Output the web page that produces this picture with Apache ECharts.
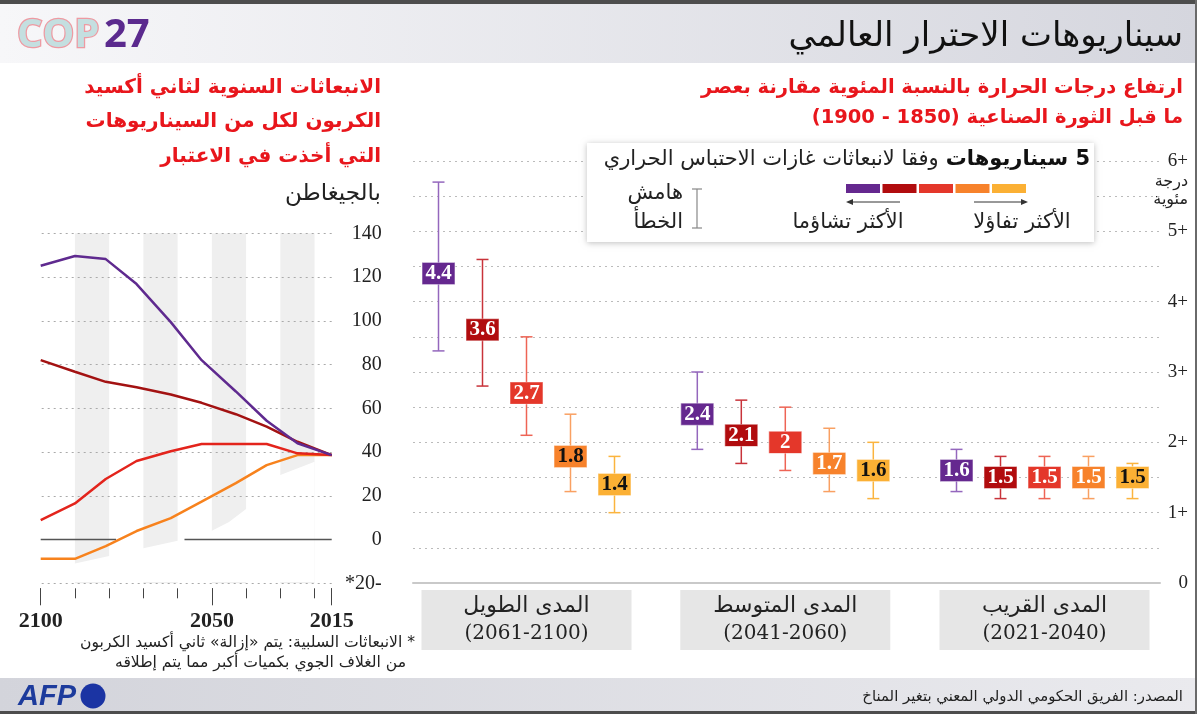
<!DOCTYPE html>
<html><head><meta charset="utf-8">
<script src="https://cdn.jsdelivr.net/npm/echarts@6/dist/echarts.min.js"></script>
<style>html,body{margin:0;padding:0;background:#fff;overflow:hidden}#c{width:1197px;height:714px;direction:rtl}</style>
</head><body><div id="c"></div><script>
// ---------- Data: left chart (annual CO2 emissions, GtCO2) ----------
const emissionYears = [2100, 2090, 2081, 2072, 2062, 2053, 2043, 2034, 2025, 2015];
const ssp585 = [125.2, 129.6, 128.2, 116.8, 99.4, 82.0, 67.7, 54.3, 44.0, 38.6];
const ssp370 = [82.0, 76.7, 72.1, 69.6, 66.3, 62.5, 57.3, 51.6, 44.7, 38.6];
const ssp245 = [8.9, 16.5, 27.7, 35.9, 40.4, 43.7, 43.7, 43.7, 39.4, 38.6];
const ssp126 = [-8.8, -8.8, -3.0, 3.9, 9.8, 17.3, 25.8, 34.0, 38.6, 38.6];
const maskYears = [2100, 2090, 2080, 2070, 2060, 2050, 2045, 2040, 2030, 2020];
const maskTop = [-12, -11, -7.5, -4, -0.5, 4, 8, 14, 29.5, 35.6];
const zeroSegA = [2100, 2078];
const zeroSegB = [2058, 2015];
const bandYears = [[2090, 2080], [2070, 2060], [2050, 2040], [2030, 2020]];
const emissionTicks = [140, 120, 100, 80, 60, 40, 20, -20];
const yearTicks = [2100, 2090, 2080, 2070, 2060, 2050, 2040, 2030, 2020, 2015];
const yearLabels = [2100, 2050, 2015];

// ---------- Data: right chart (warming, °C) ----------
const scenarios = ['SSP5-8.5', 'SSP3-7.0', 'SSP2-4.5', 'SSP1-2.6', 'SSP1-1.9'];
const periods = ['المدى الطويل', 'المدى المتوسط', 'المدى القريب'];
const periodYears = ['(2061-2100)', '(2041-2060)', '(2021-2040)'];
const warmLong = [4.4, 3.6, 2.7, 1.8, 1.4];
const lowLong = [3.3, 2.8, 2.1, 1.3, 1.0];
const highLong = [5.7, 4.6, 3.5, 2.4, 1.8];
const warmMid = [2.4, 2.1, 2.0, 1.7, 1.6];
const lowMid = [1.9, 1.7, 1.6, 1.3, 1.2];
const highMid = [3.0, 2.6, 2.5, 2.2, 2.0];
const warmNear = [1.6, 1.5, 1.5, 1.5, 1.5];
const lowNear = [1.3, 1.2, 1.2, 1.2, 1.2];
const highNear = [1.9, 1.8, 1.8, 1.8, 1.7];
const warmTicks = [0, 1, 2, 3, 4, 5, 6];

// ---------- Styles ----------
const boxColors = ['#65288f', '#b10c0e', '#e4372a', '#f7822b', '#fbb034'];
const barColors = ['#9467bd', '#c8333a', '#ee6455', '#f9a062', '#fbb43e'];
const lineColors = ['#5f2a8f', '#a31212', '#e3241c', '#f7821d'];
const darkText = [[3, 4], [4], [4]];
const AR = "'DejaVu Sans', sans-serif";
const SERIF = "'Liberation Serif', 'DejaVu Serif', serif";
const DSERIF = "'DejaVu Serif', serif";
const RED = '#e8161c';

const groups = [
  {mid: warmLong, low: lowLong, high: highLong},
  {mid: warmMid, low: lowMid, high: highMid},
  {mid: warmNear, low: lowNear, high: highNear}
];
const groupLeft = [416.5, 675.3, 934.5];

const chart = echarts.init(document.getElementById('c'), null, {renderer: 'canvas'});

const grids = [
  {left: 40.7, top: 233.3, width: 291, height: 350},
  {left: 413, top: 161, width: 747, height: 422}
];
groupLeft.forEach(l => grids.push({left: l, top: 161, width: 220, height: 422}));

const xAxes = [
  {gridIndex: 0, type: 'value', position: 'bottom', inverse: true, min: 2015, max: 2100, offset: 5,
    axisLine: {show: false, onZero: false}, splitLine: {show: false},
    axisTick: {show: true, customValues: yearTicks, length: 10, lineStyle: {color: '#444', width: 1}},
    axisLabel: {show: false}},
  {gridIndex: 0, type: 'value', position: 'bottom', inverse: true, min: 2015, max: 2100, offset: 5,
    axisLine: {show: false, onZero: false}, splitLine: {show: false},
    axisTick: {show: true, customValues: yearLabels, length: 17, lineStyle: {color: '#444', width: 1}},
    axisLabel: {show: true, customValues: yearLabels, margin: 22, fontFamily: SERIF, fontSize: 22, fontWeight: 'bold', color: '#222',
      formatter: v => String(v)}},
  {gridIndex: 1, type: 'category', position: 'bottom', data: [''], axisTick: {show: false}, axisLabel: {show: false},
    axisLine: {show: true, onZero: false, lineStyle: {color: '#c9c9c9', width: 2}}}
];
groupLeft.forEach((l, g) => xAxes.push({gridIndex: 2 + g, type: 'category', position: 'bottom', data: scenarios, show: false,
  axisLine: {onZero: false}}));
groupLeft.forEach((l, g) => xAxes.push({gridIndex: 2 + g, type: 'category', position: 'bottom', data: [periods[g]],
  axisLine: {show: false, onZero: false}, axisTick: {show: false},
  axisLabel: {interval: 0, margin: 7, backgroundColor: '#e6e6e6', width: 210, padding: [2, 0, 2, 0], align: 'center',
    formatter: () => '{a|' + periods[g] + '}\n{b|' + periodYears[g] + '}',
    rich: {a: {fontFamily: AR, fontSize: 22, lineHeight: 28, color: '#222', align: 'center'},
           b: {fontFamily: DSERIF, fontSize: 20, lineHeight: 28, color: '#222', align: 'center'}}}}));

const yAxes = [
  {gridIndex: 0, type: 'value', min: -20, max: 140, interval: 20, position: 'right',
    axisLine: {show: false}, axisTick: {show: false}, splitLine: {show: false},
    axisLabel: {margin: 50, align: 'right', fontFamily: SERIF, fontSize: 20, color: '#222',
      formatter: v => v < 0 ? String(v) + '*' : String(v)}},
  {gridIndex: 1, type: 'value', min: 0, max: 6, interval: 0.5, position: 'right',
    axisLine: {show: false}, axisTick: {show: false},
    splitLine: {show: true, lineStyle: {color: '#bbbbbb', width: 1, type: [2, 4]}},
    axisLabel: {margin: 28, align: 'right', fontFamily: SERIF, fontSize: 19, color: '#222',
      formatter: v => warmTicks.indexOf(v) < 0 ? '' : (v === 0 ? '0' : '+' + v)}}
];
groupLeft.forEach((l, g) => yAxes.push({gridIndex: 2 + g, type: 'value', min: 0, max: 6, show: false}));

const series = [
  {type: 'line', xAxisIndex: 0, yAxisIndex: 0, data: [], z: 1, silent: true,
    markArea: {silent: true, itemStyle: {color: '#efefef'}, label: {show: false},
      data: bandYears.map(b => [{xAxis: b[0]}, {xAxis: b[1]}])}},
  {type: 'line', xAxisIndex: 0, yAxisIndex: 0, z: 2, silent: true, symbol: 'none',
    data: maskYears.map((y, i) => [y, maskTop[i]]),
    lineStyle: {width: 0, color: '#fff'}, areaStyle: {color: '#fff', opacity: 1, origin: -19.4}},
  {type: 'line', xAxisIndex: 0, yAxisIndex: 0, data: [], z: 3, silent: true,
    markLine: {silent: true, symbol: ['none', 'none'], label: {show: false},
      lineStyle: {color: '#aaa', width: 1, type: [2, 4]},
      data: emissionTicks.map(v => ({yAxis: v}))}},
  {type: 'line', xAxisIndex: 0, yAxisIndex: 0, z: 4, silent: true, symbol: 'none',
    data: zeroSegA.map(y => [y, 0]), lineStyle: {color: '#555', width: 1.5}},
  {type: 'line', xAxisIndex: 0, yAxisIndex: 0, z: 4, silent: true, symbol: 'none',
    data: zeroSegB.map(y => [y, 0]), lineStyle: {color: '#555', width: 1.5}}
];
[ssp585, ssp370, ssp245, ssp126].forEach((arr, k) => series.push({
  type: 'line', name: scenarios[k], xAxisIndex: 0, yAxisIndex: 0, z: 5 + (3 - k), symbol: 'none',
  data: emissionYears.map((y, i) => [y, arr[i]]),
  lineStyle: {color: lineColors[k], width: 2.5}
}));

groups.forEach((gr, g) => {
  series.push({
    type: 'custom', xAxisIndex: 3 + g, yAxisIndex: 2 + g, z: 5, silent: true,
    data: scenarios.map((s, i) => [i, gr.low[i], gr.high[i]]),
    encode: {x: 0, y: [1, 2]},
    renderItem: (params, api) => {
      const x = api.value(0);
      const p1 = api.coord([x, api.value(1)]);
      const p2 = api.coord([x, api.value(2)]);
      const st = {stroke: barColors[params.dataIndex], lineWidth: 1.5};
      const hw = 6;
      return {type: 'group', children: [
        {type: 'line', shape: {x1: p1[0], y1: p1[1], x2: p2[0], y2: p2[1]}, style: st},
        {type: 'line', shape: {x1: p1[0] - hw, y1: p1[1], x2: p1[0] + hw, y2: p1[1]}, style: st},
        {type: 'line', shape: {x1: p2[0] - hw, y1: p2[1], x2: p2[0] + hw, y2: p2[1]}, style: st}
      ]};
    }
  });
  series.push({
    type: 'scatter', xAxisIndex: 3 + g, yAxisIndex: 2 + g, z: 6, silent: true,
    symbol: 'rect', symbolSize: [33, 22],
    data: gr.mid.map((v, i) => ({
      value: [i, v],
      itemStyle: {color: boxColors[i], opacity: 1, borderColor: 'rgba(255,255,255,0.45)', borderWidth: 1},
      label: {color: darkText[g].indexOf(i) >= 0 ? '#111' : '#fff'}
    })),
    itemStyle: {opacity: 1},
    label: {show: true, position: 'inside', fontFamily: SERIF, fontSize: 21, fontWeight: 'bold',
      formatter: p => String(p.value[1])}
  });
});

const T = (x, y, text, font, fill, align, extra) => Object.assign({type: 'text', x: x, y: y,
  style: {text: text, font: font, fill: fill, align: align || 'right', verticalAlign: 'middle'}}, extra || {});

const graphic = [
  {type: 'rect', shape: {x: 0, y: 0, width: 1197, height: 4}, style: {fill: '#4d4d4d'}},
  {type: 'rect', shape: {x: 0, y: 4, width: 1197, height: 59},
    style: {fill: {type: 'linear', x: 0, y: 0, x2: 1, y2: 0, colorStops: [{offset: 0, color: '#f7f7f9'}, {offset: 1, color: '#d5d6de'}]}}},
  {type: 'text', x: 17, y: 36, style: {text: 'COP', font: "bold 40px 'Open Sans', Inter, sans-serif", fill: '#c4dfe0', stroke: '#ee9aa2', lineWidth: 2.5, align: 'left', verticalAlign: 'middle'}},
  T(104, 36, '27', "bold 40px 'Open Sans', Inter, sans-serif", '#5b2a8e', 'left'),
  T(1183, 37, 'سيناريوهات الاحترار العالمي', '34px ' + AR, '#111'),
  // bottom band
  {type: 'rect', shape: {x: 0, y: 678, width: 1197, height: 33},
    style: {fill: {type: 'linear', x: 0, y: 0, x2: 1, y2: 0, colorStops: [{offset: 0, color: '#d3d4db'}, {offset: 1, color: '#eaeaee'}]}}},
  {type: 'rect', shape: {x: 0, y: 711, width: 1197, height: 3}, style: {fill: '#4d4d4d'}},
  {type: 'rect', shape: {x: 1195, y: 0, width: 2, height: 714}, style: {fill: '#6a6a6a'}},
  T(18, 697, 'AFP', "italic bold 29px 'Liberation Sans', Arial, sans-serif", '#1c3b9c', 'left'),
  {type: 'circle', shape: {cx: 93, cy: 696, r: 12.5}, style: {fill: '#1b34a3'}},
  T(1183, 697, 'المصدر: الفريق الحكومي الدولي المعني بتغير المناخ', '14.9px ' + AR, '#222'),
  // left titles
  T(381, 88, 'الانبعاثات السنوية لثاني أكسيد', 'bold 20px ' + AR, RED),
  T(381, 122, 'الكربون لكل من السيناريوهات', 'bold 20px ' + AR, RED),
  T(381, 157, 'التي أخذت في الاعتبار', 'bold 20px ' + AR, RED),
  T(381, 194, 'بالجيغاطن', '23px ' + AR, '#222'),
  // right titles
  T(1183, 88, 'ارتفاع درجات الحرارة بالنسبة المئوية مقارنة بعصر', 'bold 19.5px ' + AR, RED),
  T(1183, 118, 'ما قبل الثورة الصناعية (1850 - 1900)', 'bold 19.5px ' + AR, RED),
  T(1188, 182, 'درجة', '16px ' + AR, '#222'),
  T(1188, 200, 'مئوية', '16px ' + AR, '#222'),
  // footnote
  T(415, 643, '* الانبعاثات السلبية: يتم «إزالة» ثاني أكسيد الكربون', '15.6px ' + AR, '#222'),
  T(406, 663, 'من الغلاف الجوي بكميات أكبر مما يتم إطلاقه', '15.6px ' + AR, '#222')
];

// legend box
const legend = [
  {type: 'rect', shape: {x: 587, y: 143, width: 507, height: 99},
    style: {fill: '#fff', shadowBlur: 6, shadowColor: 'rgba(0,0,0,0.25)', shadowOffsetX: 0, shadowOffsetY: 1}},
  {type: 'text', x: 1090, y: 160, style: {
    text: '{r|وفقا لانبعاثات غازات الاحتباس الحراري}{b|5 سيناريوهات}', align: 'right', verticalAlign: 'middle',
    rich: {r: {font: '21px ' + AR, fill: '#222'}, b: {font: 'bold 21px ' + AR, fill: '#111', padding: [0, 0, 0, 7]}}}},
  {type: 'line', shape: {x1: 851, y1: 202, x2: 900, y2: 202}, style: {stroke: '#333', lineWidth: 1}},
  {type: 'polygon', shape: {points: [[846, 202], [853, 199], [853, 205]]}, style: {fill: '#333'}},
  {type: 'line', shape: {x1: 974, y1: 202, x2: 1023, y2: 202}, style: {stroke: '#333', lineWidth: 1}},
  {type: 'polygon', shape: {points: [[1028, 202], [1021, 199], [1021, 205]]}, style: {fill: '#333'}},
  T(848, 223, 'الأكثر تشاؤما', '21px ' + AR, '#222', 'center'),
  T(1022, 223, 'الأكثر تفاؤلا', '21px ' + AR, '#222', 'center'),
  {type: 'line', shape: {x1: 697, y1: 189, x2: 697, y2: 228}, style: {stroke: '#888', lineWidth: 1.2}},
  {type: 'line', shape: {x1: 692, y1: 189, x2: 702, y2: 189}, style: {stroke: '#888', lineWidth: 1.2}},
  {type: 'line', shape: {x1: 692, y1: 228, x2: 702, y2: 228}, style: {stroke: '#888', lineWidth: 1.2}},
  T(683, 194, 'هامش', '21px ' + AR, '#222'),
  T(683, 223, 'الخطأ', '21px ' + AR, '#222')
];
boxColors.forEach((c, i) => legend.push({type: 'rect', shape: {x: 846 + i * 36.5, y: 184, width: 34, height: 9}, style: {fill: c}}));
legend.forEach(e => { e.z = 10; graphic.push(e); });

chart.setOption({
  animation: false,
  backgroundColor: '#fff',
  textStyle: {fontFamily: AR},
  grid: grids,
  xAxis: xAxes,
  yAxis: yAxes,
  series: series,
  graphic: graphic
});
</script></body></html>
